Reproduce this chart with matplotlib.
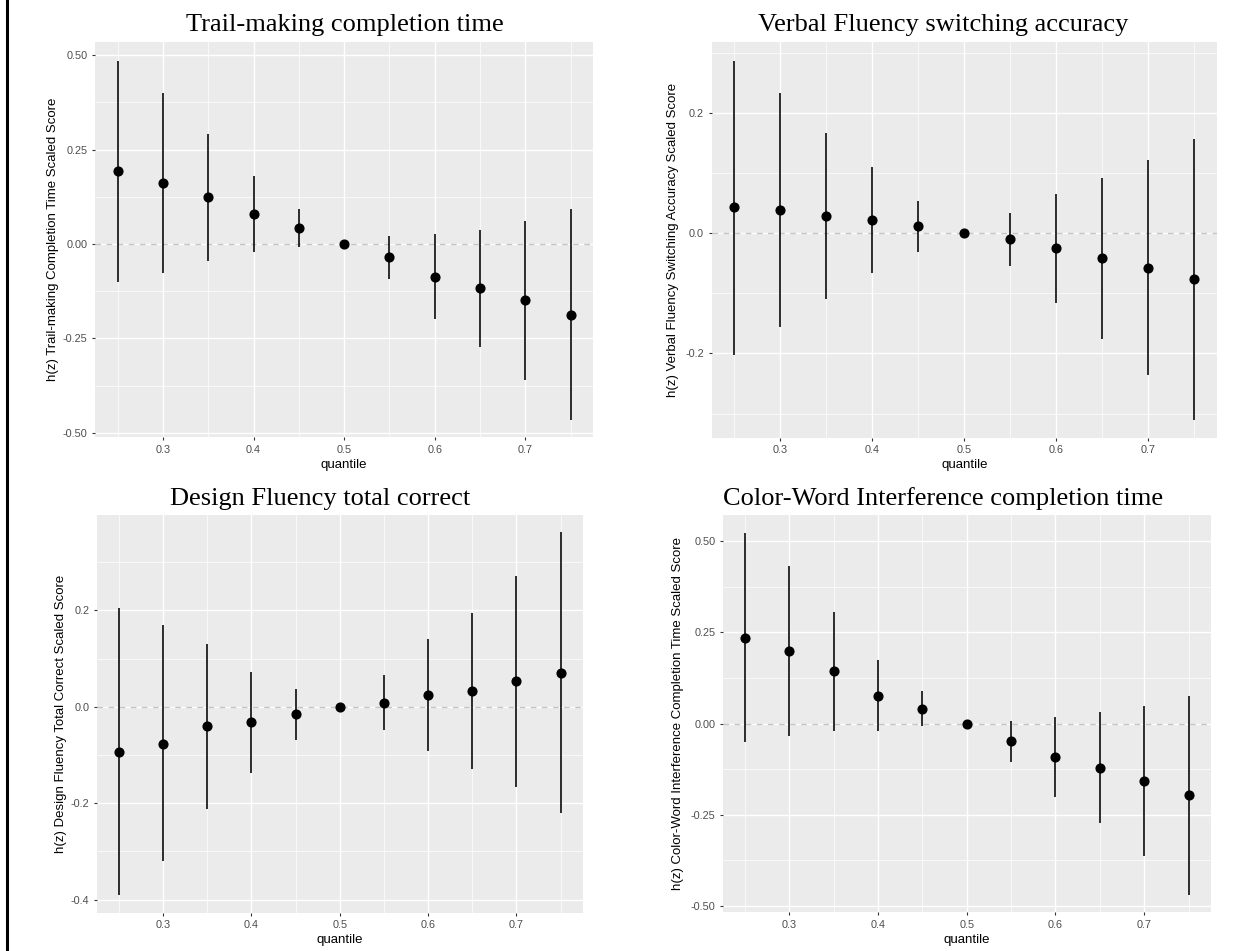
import matplotlib
matplotlib.use("Agg")
import matplotlib.pyplot as plt
from matplotlib.lines import Line2D

plt.rcParams['axes.unicode_minus'] = False
plt.rcParams['font.family'] = ['Liberation Sans', 'DejaVu Sans']

# ---------------- data ----------------
quantile = [0.25, 0.30, 0.35, 0.40, 0.45, 0.50, 0.55, 0.60, 0.65, 0.70, 0.75]

trail_est = [0.193, 0.162, 0.124, 0.079, 0.043, 0.0, -0.035, -0.087, -0.117, -0.149, -0.187]
trail_low = [-0.100, -0.077, -0.044, -0.020, -0.008, 0.0, -0.092, -0.199, -0.273, -0.359, -0.467]
trail_up = [0.484, 0.400, 0.292, 0.180, 0.093, 0.0, 0.021, 0.026, 0.038, 0.062, 0.093]

verbal_est = [0.0427, 0.038, 0.028, 0.0216, 0.011, 0.0, -0.0105, -0.0255, -0.0416, -0.0577, -0.077]
verbal_low = [-0.202, -0.156, -0.109, -0.066, -0.031, 0.0, -0.054, -0.116, -0.176, -0.236, -0.311]
verbal_up = [0.2865, 0.233, 0.166, 0.110, 0.053, 0.0, 0.034, 0.065, 0.091, 0.121, 0.157]

design_est = [-0.0945, -0.0766, -0.040, -0.031, -0.0154, 0.0, 0.009, 0.025, 0.033, 0.0527, 0.0708]
design_low = [-0.390, -0.319, -0.212, -0.1366, -0.069, 0.0, -0.049, -0.092, -0.128, -0.167, -0.2196]
design_up = [0.205, 0.169, 0.130, 0.072, 0.0375, 0.0, 0.0667, 0.1417, 0.194, 0.271, 0.3625]

color_est = [0.235, 0.199, 0.1436, 0.0767, 0.041, 0.0, -0.048, -0.092, -0.1205, -0.157, -0.195]
color_low = [-0.051, -0.034, -0.019, -0.019, -0.007, 0.0, -0.104, -0.201, -0.273, -0.3616, -0.469]
color_up = [0.5216, 0.432, 0.307, 0.1745, 0.0904, 0.0, 0.008, 0.0175, 0.032, 0.0485, 0.0767]

titles = ["Trail-making completion time",
          "Verbal Fluency switching accuracy",
          "Design Fluency total correct",
          "Color-Word Interference completion time"]
ylabels = ["h(z) Trail-making Completion Time Scaled Score",
           "h(z) Verbal Fluency Switching Accuracy Scaled Score",
           "h(z) Design Fluency Total Correct Scaled Score",
           "h(z) Color-Word Interference Completion Time Scaled Score"]
xlabel = "quantile"

x_major = [0.3, 0.4, 0.5, 0.6, 0.7]
x_minor = [0.25, 0.35, 0.45, 0.55, 0.65, 0.75]

yt_quarter = [-0.50, -0.25, 0.00, 0.25, 0.50]
yt_quarter_lab = ["-0.50", "-0.25", "0.00", "0.25", "0.50"]
ym_quarter = [-0.375, -0.125, 0.125, 0.375]
yt_tenth_v = [-0.2, 0.0, 0.2]
yt_tenth_v_lab = ["-0.2", "0.0", "0.2"]
ym_tenth_v = [-0.3, -0.1, 0.1, 0.3]
yt_tenth_d = [-0.4, -0.2, 0.0, 0.2]
yt_tenth_d_lab = ["-0.4", "-0.2", "0.0", "0.2"]
ym_tenth_d = [-0.3, -0.1, 0.1, 0.3]

# ---------------- layout (pixels) ----------------
W, H = 1253, 951
fig = plt.figure(figsize=(W / 100, H / 100), dpi=100)
fig.patch.set_facecolor('white')

panels = [
    dict(box=(95.0, 42.0, 593.3, 437.3), ylim=(-0.512, 0.535),
         est=trail_est, low=trail_low, up=trail_up,
         yt=yt_quarter, ytl=yt_quarter_lab, ym=ym_quarter,
         title_xy=(344.7, 30.7), ylab_x=53.5),
    dict(box=(711.5, 42.3, 1217.3, 437.7), ylim=(-0.340, 0.317),
         est=verbal_est, low=verbal_low, up=verbal_up,
         yt=yt_tenth_v, ytl=yt_tenth_v_lab, ym=ym_tenth_v,
         title_xy=(943.3, 30.7), ylab_x=672.5),
    dict(box=(96.7, 515.0, 582.7, 912.7), ylim=(-0.427, 0.398),
         est=design_est, low=design_low, up=design_up,
         yt=yt_tenth_d, ytl=yt_tenth_d_lab, ym=ym_tenth_d,
         title_xy=(320.3, 505.0), ylab_x=61.5),
    dict(box=(722.8, 515.0, 1210.7, 912.3), ylim=(-0.517, 0.572),
         est=color_est, low=color_low, up=color_up,
         yt=yt_quarter, ytl=yt_quarter_lab, ym=ym_quarter,
         title_xy=(942.7, 505.0), ylab_x=677.5),
]

for i, p in enumerate(panels):
    l, t, r, b = p['box']
    ax = fig.add_axes([l / W, 1 - b / H, (r - l) / W, (b - t) / H])
    ax.set_facecolor('#EBEBEB')
    for s in ax.spines.values():
        s.set_visible(False)
    ax.set_xlim(0.225, 0.775)
    ax.set_ylim(*p['ylim'])
    ax.set_xticks(x_major)
    ax.set_xticklabels([f"{v:.1f}" for v in x_major])
    ax.set_xticks(x_minor, minor=True)
    ax.set_yticks(p['yt'])
    ax.set_yticklabels(p['ytl'])
    ax.set_yticks(p['ym'], minor=True)
    ax.grid(which='major', color='white', linewidth=1.0)
    ax.grid(which='minor', color='white', linewidth=0.5)
    ax.set_axisbelow(True)
    ax.tick_params(which='major', length=2.4, width=0.8, color='#333333',
                   labelcolor='#4D4D4D', labelsize=7.8, pad=3)
    ax.tick_params(which='minor', length=0)

    ax.axhline(0, color='#C4C4C4', linewidth=1.0, linestyle=(0, (4, 4)), zorder=1.5)
    ax.vlines(quantile, p['low'], p['up'], color='black', linewidth=1.15, zorder=2)
    ax.plot(quantile, p['est'], 'o', color='black', markersize=6.3, zorder=3)

    ax.set_xlabel(xlabel, fontsize=9.5, color='black', labelpad=3)
    ax.set_ylabel(ylabels[i], fontsize=9.5, color='black', va='center')
    ax.yaxis.set_label_coords((p['ylab_x'] - l) / (r - l), 0.5)

    tx, ty = p['title_xy']
    fig.text(tx / W, 1 - ty / H, titles[i], family='Liberation Serif',
             fontsize=19, ha='center', va='baseline', color='black')

# left border line
fig.add_artist(Line2D([6.8 / W, 6.8 / W], [0, 1], color='black', linewidth=2.2,
                      transform=fig.transFigure))

fig.savefig('out.png', dpi=100, facecolor='white')
